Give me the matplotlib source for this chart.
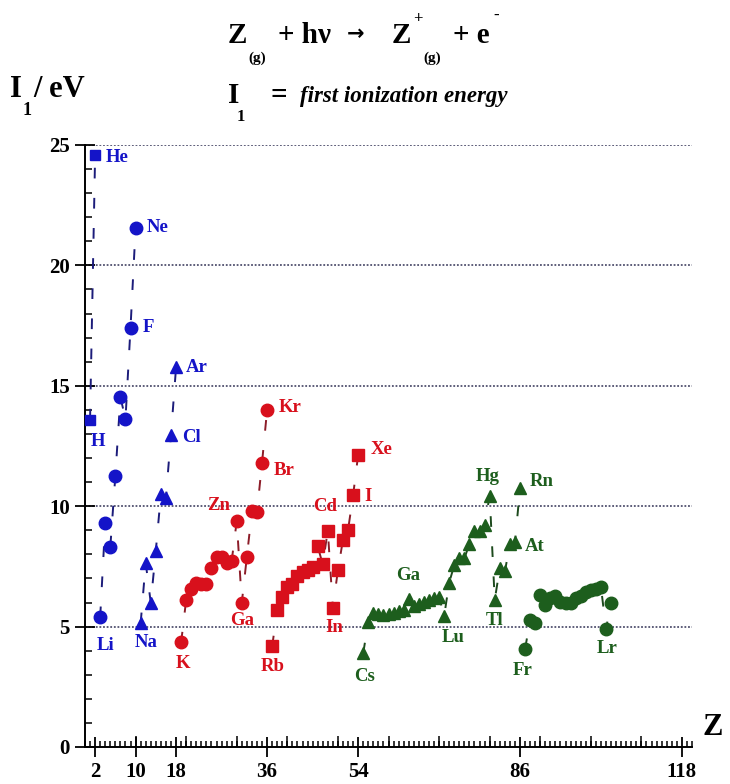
import numpy as np
import matplotlib.pyplot as plt
from matplotlib.ticker import MultipleLocator

plt.rcParams['font.family'] = ['Liberation Serif', 'DejaVu Serif']
plt.rcParams['font.weight'] = 'bold'

# first ionization energies in eV, one list per period
z_p1 = [1, 2]
ie_p1 = [13.60, 24.59]

z_p2 = list(range(3, 11))
ie_p2 = [5.39, 9.32, 8.30, 11.26, 14.53, 13.62, 17.42, 21.56]

z_p3 = list(range(11, 19))
ie_p3 = [5.14, 7.65, 5.99, 8.15, 10.49, 10.36, 12.97, 15.76]

z_p4 = list(range(19, 37))
ie_p4 = [4.34, 6.11, 6.56, 6.83, 6.75, 6.77, 7.43, 7.90, 7.88, 7.64,
         7.73, 9.39, 6.00, 7.90, 9.79, 9.75, 11.81, 14.00]

z_p5 = list(range(37, 55))
ie_p5 = [4.18, 5.69, 6.22, 6.63, 6.76, 7.09, 7.28, 7.36, 7.46, 8.34,
         7.58, 8.99, 5.79, 7.34, 8.61, 9.01, 10.45, 12.13]

z_p6 = list(range(55, 87))
ie_p6 = [3.89, 5.21, 5.58, 5.54, 5.47, 5.53, 5.58, 5.64, 5.67, 6.15,
         5.86, 5.94, 6.02, 6.11, 6.18, 6.25, 5.43, 6.83, 7.55, 7.86,
         7.83, 8.44, 8.97, 8.96, 9.23, 10.44, 6.11, 7.42, 7.29, 8.41,
         8.50, 10.75]

z_p7 = list(range(87, 105))
ie_p7 = [4.07, 5.28, 5.17, 6.31, 5.89, 6.19, 6.27, 6.03, 5.97, 5.99,
         6.20, 6.28, 6.42, 6.50, 6.58, 6.65, 4.90, 6.00]

blue, red, green = '#1414c8', '#d8101c', '#1d5e1d'
blue_ln, red_ln, green_ln = '#1c1c7a', '#8c1c28', '#1d4a1d'

series = [
    (z_p1, ie_p1, 's', 7.5, blue, blue_ln),
    (z_p2, ie_p2, 'o', 9, blue, blue_ln),
    (z_p3, ie_p3, '^', 9, blue, blue_ln),
    (z_p4, ie_p4, 'o', 9, red, red_ln),
    (z_p5, ie_p5, 's', 8, red, red_ln),
    (z_p6, ie_p6, '^', 9, green, green_ln),
    (z_p7, ie_p7, 'o', 9, green, green_ln),
]

# element labels: text, Z, colour, alignment, offset in pixels (dx, dy up)
labels = [
    ('He', 2, blue, 'left', 11, -3), ('Ne', 10, blue, 'left', 11, 0),
    ('F', 9, blue, 'left', 12, 0), ('Ar', 18, blue, 'left', 10, 0),
    ('Cl', 17, blue, 'left', 11, -3), ('H', 1, blue, 'center', 8, -22),
    ('Li', 3, blue, 'center', 5, -28), ('Na', 11, blue, 'center', 5, -19),
    ('K', 19, red, 'center', 2, -21), ('Zn', 30, red, 'center', -18, 15),
    ('Ga', 31, red, 'center', 0, -18), ('Br', 35, red, 'left', 12, -8),
    ('Kr', 36, red, 'left', 12, 2), ('Rb', 37, red, 'center', 1, -20),
    ('Cd', 48, red, 'center', -3, 24), ('In', 49, red, 'center', 1, -20),
    ('I', 53, red, 'left', 11, -1), ('Xe', 54, red, 'left', 13, 5),
    ('Cs', 55, green, 'center', 1, -23), ('Ga', 64, green, 'center', -1, 23),
    ('Lu', 71, green, 'center', 9, -21), ('Hg', 80, green, 'center', -2, 19),
    ('Tl', 81, green, 'center', 0, -21), ('At', 85, green, 'left', 10, -4),
    ('Rn', 86, green, 'left', 10, 7), ('Fr', 87, green, 'center', -2, -22),
    ('Lr', 103, green, 'center', 1, -19),
]

ie_by_z = {}
for z, ie, *_ in series:
    ie_by_z.update(zip(z, ie))

W, H = 730, 784
fig = plt.figure(figsize=(W / 100, H / 100), dpi=100)
ax = fig.add_axes([85 / W, 1 - 747 / H, 607 / W, 602 / H])

for z, ie, mk, ms, col, lcol in series:
    ax.plot(z, ie, linestyle=(0, (5.5, 10)), lw=1.4, color=lcol, zorder=2)
    ax.plot(z, ie, linestyle='none', marker=mk, ms=ms, color=col,
            mec=col, zorder=3, clip_on=False)

px = 0.72  # points per pixel at 100 dpi
for txt, z, col, ha, dx, dy in labels:
    ax.annotate(txt, (z, ie_by_z[z]), xytext=(dx * px, dy * px),
                textcoords='offset points', ha=ha, va='center',
                color=col, fontsize=13.5, fontweight='bold', zorder=4)

ax.set_xlim(0, 120)
ax.set_ylim(0, 25)
for s in ('top', 'right'):
    ax.spines[s].set_visible(False)
for s in ('left', 'bottom'):
    ax.spines[s].set_linewidth(1.4)

for y in range(5, 26, 5):
    ax.axhline(y, color='#50506e', lw=1.3, linestyle=(0, (1, 1)), zorder=1)

ax.set_xticks([2, 10, 18, 36, 54, 86, 118])
ax.xaxis.set_minor_locator(MultipleLocator(1))
ax.set_yticks(range(0, 26, 5))
ax.yaxis.set_minor_locator(MultipleLocator(1))
ax.tick_params(which='major', direction='inout', length=14, width=1.3,
               labelsize=15, pad=4)
ax.tick_params(which='minor', direction='in', length=5, width=1.1)
ax.tick_params(axis='x', which='minor', length=4)

# medium ticks every ten along Z
sec = ax.secondary_xaxis('bottom')
sec.set_xticks(range(10, 120, 10))
sec.tick_params(direction='in', length=8, width=1.1, labelbottom=False)
sec.spines['bottom'].set_visible(False)


def ftext(x, y, s, size, **kw):
    fig.text(x / W, 1 - y / H, s, fontsize=size, fontweight='bold',
             va='baseline', ha='left', **kw)


# reaction equation
ftext(228, 43, 'Z', 21)
ftext(248, 62, '(g)', 11)
ftext(278, 43, '+ hν', 21)
ftext(347, 40, '→', 15, family='DejaVu Sans')
ftext(392, 43, 'Z', 21)
ftext(413, 23, '+', 12)
ftext(423, 62, '(g)', 11)
ftext(453, 43, '+ e', 21)
ftext(493, 20, '-', 12)

ftext(228, 103, 'I', 21)
ftext(237, 121, '1', 12)
ftext(270, 103, '=', 21)
ftext(300, 102, 'first ionization energy', 16.5, style='italic')

# axis titles
ftext(10, 97, 'I', 22)
ftext(23, 115, '1', 13)
ftext(33, 97, '/ eV', 22)
ftext(703, 735, 'Z', 22)

fig.savefig('out.png', dpi=100)
